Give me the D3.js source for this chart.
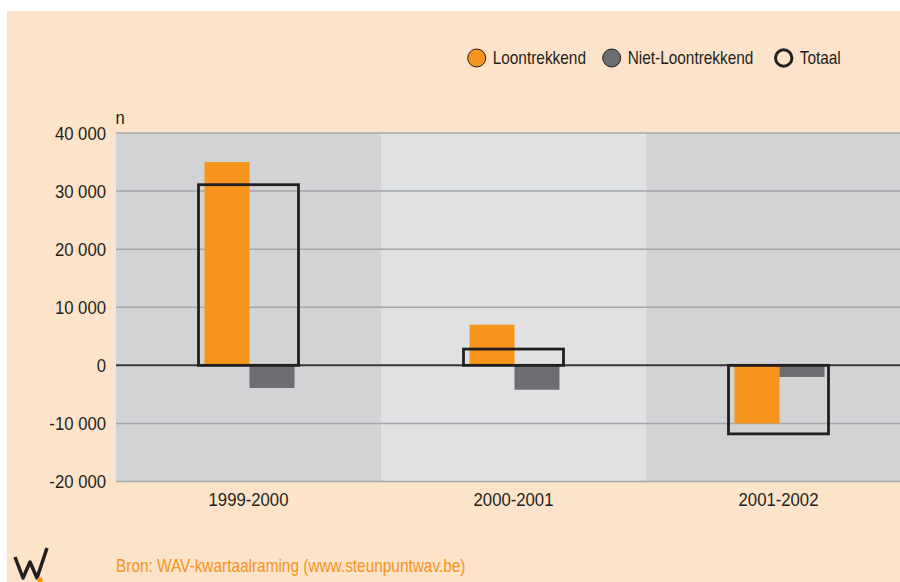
<!DOCTYPE html>
<html>
<head>
<meta charset="utf-8">
<script src="https://cdn.jsdelivr.net/npm/d3@7"></script>
<style>
  html, body { margin: 0; padding: 0; background: #ffffff; }
  svg { display: block; }
  text { font-family: "Liberation Sans", Arial, sans-serif; fill: #231f20; }
</style>
</head>
<body>
<svg width="900" height="582"></svg>
<script>
// Data
const periods = ['1999-2000', '2000-2001', '2001-2002'];
const loontrekkend = [35000, 7000, -10000];
const nietLoontrekkend = [-3900, -4200, -2000];
const totaal = [31100, 2800, -11800];
const yTicks = [-20000, -10000, 0, 10000, 20000, 30000, 40000];
const seriesNames = ['Loontrekkend', 'Niet-Loontrekkend', 'Totaal'];

const colors = {orange: '#f7941d', grey: '#6d6e71', ink: '#231f20'};
const SX = 0.88; // text is set a little condensed

const svg = d3.select('svg');
const margin = {top: 133, left: 116, bottom: 100.5};
const plotRight = 911; // last band runs off the picture
const height = +svg.attr('height');

// page background
svg.append('rect')
  .attr('x', 7).attr('y', 11)
  .attr('width', 893).attr('height', height - 11)
  .attr('fill', '#fde3c9');

const x = d3.scaleBand().domain(periods).range([margin.left, plotRight]);
const y = d3.scaleLinear().domain([-20000, 40000]).range([height - margin.bottom, margin.top]);
const inner = d3.scaleBand().domain(seriesNames.slice(0, 2)).range([-44, 46]);
const barW = 45;
const boxW = 100;

const fmt = d3.formatLocale({decimal: ',', thousands: ' ', grouping: [3], currency: ['', ''], minus: '-'}).format(',');

function condensed (sel, px, py) {
  return sel.attr('transform', `translate(${px},${py}) scale(${SX},1)`);
}

// bands
svg.append('g').selectAll('rect')
  .data(periods).enter()
  .append('rect')
  .attr('x', d => x(d))
  .attr('y', y(40000))
  .attr('width', x.bandwidth())
  .attr('height', y(-20000) - y(40000))
  .attr('fill', (d, i) => i % 2 ? '#e0e1e3' : '#d1d3d5');

// grid lines
svg.append('g').selectAll('line')
  .data(yTicks.filter(t => t !== 0)).enter()
  .append('line')
  .attr('x1', margin.left).attr('x2', plotRight)
  .attr('y1', d => y(d)).attr('y2', d => y(d))
  .attr('stroke', '#a5a7aa')
  .attr('stroke-width', 1.5);

// y labels
svg.append('g').selectAll('text')
  .data(yTicks).enter()
  .append('text')
  .attr('text-anchor', 'end')
  .attr('dy', '0.36em')
  .style('font-size', '19px')
  .text(d => fmt(d))
  .each(function (d) { condensed(d3.select(this), 106, y(d)); });

condensed(svg.append('text').style('font-size', '19px').text('n'), 115.5, 124);

// bars
const bars = svg.append('g');
bars.selectAll('.loon')
  .data(loontrekkend).enter()
  .append('rect')
  .attr('x', (d, i) => x(periods[i]) + x.bandwidth() / 2 + inner('Loontrekkend'))
  .attr('y', d => y(Math.max(0, d)))
  .attr('width', barW)
  .attr('height', d => Math.abs(y(d) - y(0)))
  .attr('fill', colors.orange);

bars.selectAll('.niet')
  .data(nietLoontrekkend).enter()
  .append('rect')
  .attr('x', (d, i) => x(periods[i]) + x.bandwidth() / 2 + inner('Niet-Loontrekkend'))
  .attr('y', d => y(Math.max(0, d)))
  .attr('width', barW)
  .attr('height', d => Math.abs(y(d) - y(0)))
  .attr('fill', colors.grey);

// zero line
svg.append('line')
  .attr('x1', margin.left).attr('x2', plotRight)
  .attr('y1', y(0)).attr('y2', y(0))
  .attr('stroke', '#38383a')
  .attr('stroke-width', 2);

// totals as open boxes
svg.append('g').selectAll('rect')
  .data(totaal).enter()
  .append('rect')
  .attr('x', (d, i) => x(periods[i]) + x.bandwidth() / 2 - boxW / 2)
  .attr('y', d => y(Math.max(0, d)))
  .attr('width', boxW)
  .attr('height', d => Math.abs(y(d) - y(0)))
  .attr('fill', 'none')
  .attr('stroke', colors.ink)
  .attr('stroke-width', 2.8);

// category labels
svg.append('g').selectAll('text')
  .data(periods).enter()
  .append('text')
  .attr('text-anchor', 'middle')
  .style('font-size', '19px')
  .text(d => d)
  .each(function (d) { condensed(d3.select(this), x(d) + x.bandwidth() / 2, 506); });

// legend
const legendItems = [
  {name: 'Loontrekkend', cx: 476.7, fill: colors.orange, sw: 1},
  {name: 'Niet-Loontrekkend', cx: 611.7, fill: colors.grey, sw: 1},
  {name: 'Totaal', cx: 783.7, fill: 'none', sw: 3}
];
const legend = svg.append('g').selectAll('g')
  .data(legendItems).enter()
  .append('g');
legend.append('circle')
  .attr('cx', d => d.cx)
  .attr('cy', 58)
  .attr('r', d => d.sw > 1 ? 8.2 : 9)
  .attr('fill', d => d.fill)
  .attr('stroke', colors.ink)
  .attr('stroke-width', d => d.sw);
legend.append('text')
  .style('font-size', '17.5px')
  .text(d => d.name)
  .each(function (d) { condensed(d3.select(this), d.cx + 16, 64); });

// source
condensed(svg.append('text')
  .style('font-size', '17.5px')
  .style('fill', colors.orange)
  .text('Bron: WAV-kwartaalraming (www.steunpuntwav.be)'), 116, 572);

// logo
const logo = svg.append('g');
logo.append('path')
  .attr('d', d3.line()([[15, 557], [23, 578], [30, 562], [37, 578], [47, 548]]))
  .attr('fill', 'none')
  .attr('stroke', colors.ink)
  .attr('stroke-width', 3.5)
  .attr('stroke-linejoin', 'round');
logo.append('circle')
  .attr('cx', 40).attr('cy', 580).attr('r', 2.8)
  .attr('fill', colors.orange);
</script>
</body>
</html>
